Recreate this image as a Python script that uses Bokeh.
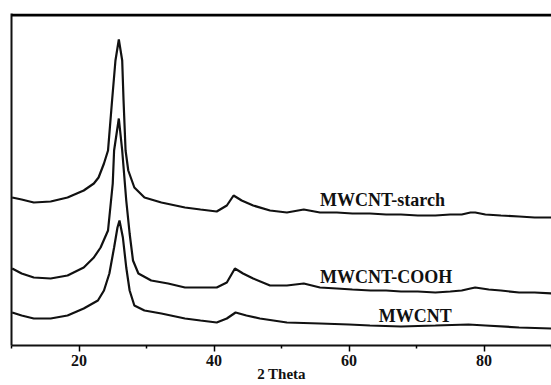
from bokeh.plotting import figure
from bokeh.models import Range1d, FixedTicker, Label, Span
from bokeh.embed import file_html
from bokeh.resources import INLINE

# ---- data (intensity in arbitrary units) ----
theta_starch = [10.1, 11.5, 13.3, 15.8, 18.3, 20.7, 22.2, 22.9, 23.7, 24.3, 24.9, 25.4, 25.9,
                26.4, 26.6, 26.9, 27.3, 28.2, 29.7, 32.2, 35.7, 38.0, 40.4, 41.9, 42.9, 44.1,
                45.8, 48.3, 50.8, 53.3, 55.7, 58.2, 60.5, 63.1, 65.5, 67.7, 70.2, 72.8, 75.0,
                76.7, 78.0, 78.7, 80.2, 82.5, 85.2, 87.5, 90.0]
i_starch = [148, 146, 143, 144, 148, 155, 162, 168, 182, 195, 245, 285, 306,
            285, 245, 195, 175, 158, 148, 143, 138, 136, 134, 140, 150, 145,
            140, 135, 133, 136, 133, 133, 132, 132, 131, 131, 130, 130, 131,
            131, 133, 133, 131, 130, 129, 128, 128]

theta_cooh = [10.1, 11.5, 13.3, 15.8, 18.3, 20.7, 22.2, 23.2, 24.3, 25.0, 25.2, 25.9,
              26.4, 27.0, 27.5, 28.0, 28.8, 30.7, 33.2, 35.7, 38.0, 40.4, 41.9, 43.1,
              44.3, 45.8, 48.3, 50.8, 53.3, 55.7, 58.2, 60.5, 63.2, 65.5, 67.7, 70.2,
              72.8, 75.0, 76.7, 78.0, 78.7, 80.7, 82.5, 85.2, 87.5, 90.0]
i_cooh = [77, 72, 68, 67, 70, 78, 88, 98, 115, 162, 195, 227,
          195, 145, 112, 85, 72, 65, 62, 58, 58, 58, 63, 77,
          72, 67, 60, 60, 62, 58, 57, 56, 55, 55, 54, 54,
          53, 54, 55, 57, 58, 56, 55, 53, 53, 52]

theta_mwcnt = [10.1, 11.5, 13.3, 15.8, 18.3, 20.7, 22.8, 23.7, 24.5, 25.2, 25.7, 26.0,
               26.5, 27.0, 27.5, 28.2, 29.7, 32.2, 35.7, 38.0, 40.4, 41.9, 43.2, 44.8,
               46.8, 50.8, 55.7, 60.0, 63.1, 67.7, 72.8, 77.7, 80.2, 85.2, 90.0]
i_mwcnt = [33, 30, 27, 27, 30, 37, 45, 55, 72, 98, 118, 125,
           108, 78, 55, 40, 35, 32, 27, 25, 23, 27, 33, 30,
           27, 23, 22, 21, 20, 19, 20, 21, 20, 18, 17]

series_names = ["MWCNT-starch", "MWCNT-COOH", "MWCNT"]
label_x = [55.7, 55.7, 64.4]
label_y = [145.5, 68.5, 30.0]

major_ticks = [20, 40, 60, 80]
minor_ticks = [10, 30, 50, 70, 90]
x_title = "2 Theta"

SERIF = "Liberation Serif"
INK = "#111111"

p = figure(width=551, height=385, output_backend="svg", toolbar_location=None,
           x_range=Range1d(10, 90), y_range=Range1d(0, 332),
           min_border_left=11, min_border_right=0, min_border_top=13, min_border_bottom=40)
p.outline_line_color = None
p.grid.visible = False
p.background_fill_color = "white"
p.border_fill_color = "white"

# bottom axis
xa = p.xaxis[0]
xa.ticker = FixedTicker(ticks=major_ticks, minor_ticks=minor_ticks)
xa.axis_line_width = 2
xa.axis_line_color = INK
xa.major_tick_out = 6
xa.major_tick_in = 0
xa.minor_tick_out = 3
xa.minor_tick_in = 0
xa.major_tick_line_width = 1.5
xa.minor_tick_line_width = 1.5
xa.major_label_text_font = SERIF
xa.major_label_text_font_style = "bold"
xa.major_label_text_font_size = "16px"
xa.major_label_text_color = INK
xa.major_label_standoff = 3
xa.axis_label = x_title
xa.axis_label_text_font = SERIF
xa.axis_label_text_font_style = "bold"
xa.axis_label_text_font_size = "15px"
xa.axis_label_text_color = INK
xa.axis_label_standoff = -3

# left axis: just a line
ya = p.yaxis[0]
ya.ticker = FixedTicker(ticks=[])
ya.major_label_text_font_size = "0px"
ya.major_tick_out = 0
ya.minor_tick_out = 0
ya.axis_line_width = 2
ya.axis_line_color = INK

# top frame line
p.add_layout(Span(location=330.5, location_units="data", dimension="width",
                  line_color="black", line_width=3))

for xs, ys in [(theta_starch, i_starch), (theta_cooh, i_cooh), (theta_mwcnt, i_mwcnt)]:
    p.line(xs, ys, line_color=INK, line_width=2.2)

for name, lx, ly in zip(series_names, label_x, label_y):
    p.add_layout(Label(x=lx, y=ly, text=name, text_font=SERIF, text_font_style="bold",
                       text_font_size="18px", text_color=INK, text_baseline="alphabetic"))

open("out.html", "w").write(file_html(p, INLINE))
